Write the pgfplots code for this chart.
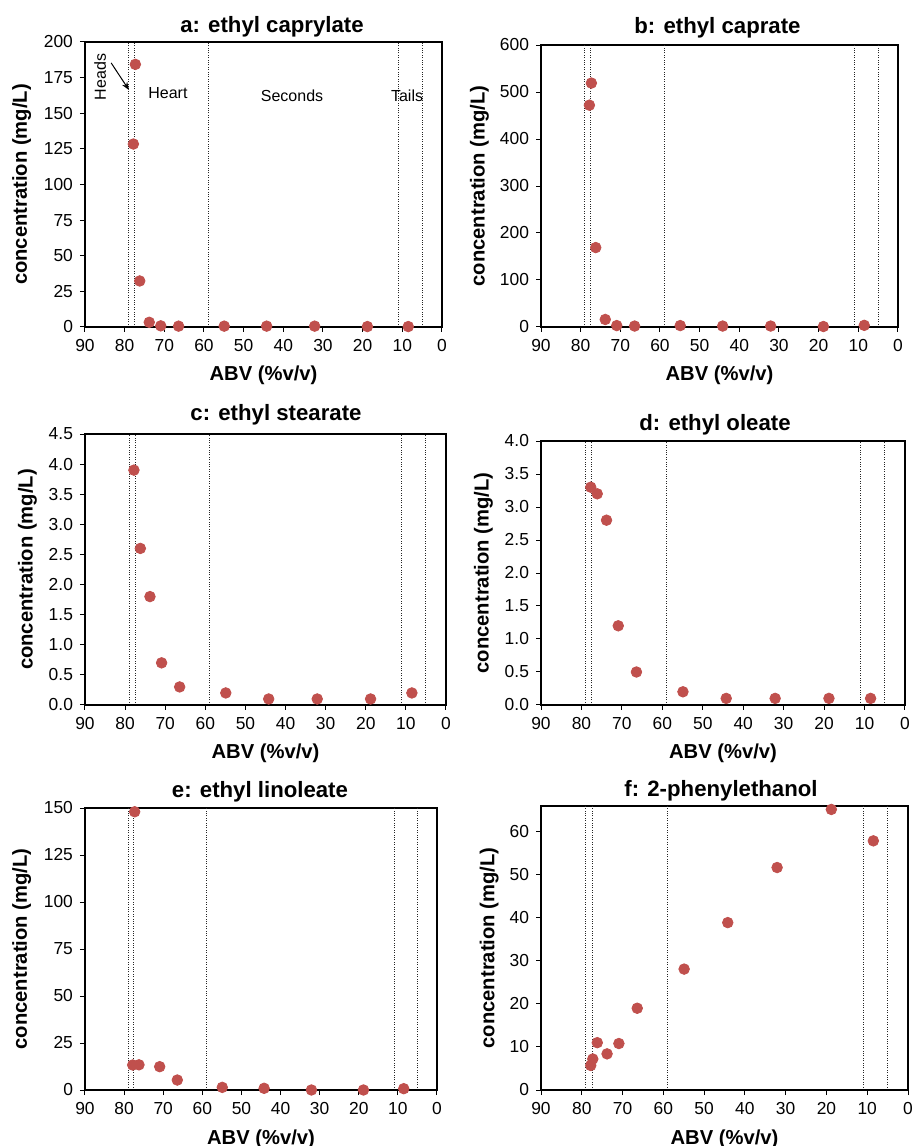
\documentclass[border=0pt]{standalone}
\usepackage{fontspec}
\setmainfont{Liberation Sans}
\usepackage{pgfplots}
\pgfplotsset{compat=1.18}
\usetikzlibrary{arrows.meta}
\definecolor{ptc}{HTML}{C0504D}
\pgfplotsset{
 panel/.style={
  scale only axis, clip=false,
  xmin=0, xmax=90, x dir=reverse, xtick={0,10,...,90},
  ymin=0,
  axis line style={line width=0.6pt},
  tick align=outside, major tick length=2.5pt,
  tick style={line width=0.5pt, black},
  xtick pos=bottom, ytick pos=left,
  /pgf/number format/assume math mode=true,
  tick label style={font=\fontsize{8.7}{10}\selectfont},
  title style={font=\bfseries\fontsize{11.1}{13}\selectfont, anchor=base, at={(axis description cs:0.5,1)}},
  xlabel style={font=\bfseries\fontsize{10.1}{12}\selectfont, anchor=base, at={(axis description cs:0.5,0)}, yshift=-27pt},
  ylabel style={font=\bfseries\fontsize{10.1}{12}\selectfont, anchor=center},
  xlabel={ABV (\%v/v)}, ylabel={concentration (mg/L)},
 },
 ylab/.style={ylabel style={at={([xshift=-#1]axis description cs:0,0.5)}}},
 vl/.style={line width=0.45pt, black!85, dash pattern=on 0.5pt off 0.7pt, forget plot},
 pts/.style={only marks, mark=*, mark size=2.65pt, color=ptc, mark options={draw=ptc, fill=ptc}},
}
\newcommand\vlines[1]{%
 \addplot[vl] coordinates {(79,0) (79,#1)};
 \addplot[vl] coordinates {(77.5,0) (77.5,#1)};
 \addplot[vl] coordinates {(59,0) (59,#1)};
 \addplot[vl] coordinates {(11,0) (11,#1)};
 \addplot[vl] coordinates {(5,0) (5,#1)};
 \draw[line width=1pt] (axis description cs:0,1) -- (axis description cs:0,0) -- (axis description cs:1,0);
}
\begin{document}
\begin{tikzpicture}
\useasboundingbox (0,0) rectangle (456pt,573pt);
% a
\begin{axis}[panel, at={(42.5pt,409.5pt)}, anchor=south west, width=178.5pt, height=142.5pt,
 ymax=200, ytick={0,25,...,200}, title={a: ethyl caprylate},
 title style={xshift=4.25pt, yshift=-1.1pt}, ylab=31.7pt]
\vlines{200}
\addplot[pts] coordinates {(77.3,184.3) (77.8,128.4) (76.2,32.3) (73.8,3.3) (70.9,0.8) (66.4,0.6) (54.9,0.6) (44.2,0.6) (32.1,0.6) (18.8,0.3) (8.5,0.3)};
\node[rotate=90, font=\fontsize{8}{9.6}\selectfont] at (axis cs:86.2,175.4) {Heads};
\draw[line width=0.5pt, -{Stealth[length=4pt,width=3pt]}] (axis cs:83.4,185.3) -- (axis cs:78.9,166.3);
\node[font=\fontsize{8}{9.6}\selectfont] at (axis cs:69.1,164.2) {Heart};
\node[font=\fontsize{8}{9.6}\selectfont] at (axis cs:37.8,162.1) {Seconds};
\node[font=\fontsize{8}{9.6}\selectfont] at (axis cs:8.8,162.1) {Tails};
\end{axis}
% b
\begin{axis}[panel, at={(270.5pt,409.5pt)}, anchor=south west, width=178.5pt, height=141pt,
 ymax=600, ytick={0,100,...,600}, title={b: ethyl caprate},
 title style={xshift=-1pt, yshift=-0.2pt}, ylab=30.8pt]
\vlines{600}
\addplot[pts] coordinates {(77.3,519) (77.8,472) (76.2,169) (73.8,16) (70.9,3) (66.4,2) (54.9,3) (44.2,2) (32.1,2) (18.8,1) (8.5,3.5)};
\end{axis}
% c
\begin{axis}[panel, at={(42.5pt,220.5pt)}, anchor=south west, width=180.5pt, height=135.5pt,
 ymax=4.5, ytick={0,0.5,...,4.5}, title={c: ethyl stearate},
 yticklabel style={/pgf/number format/.cd, fixed, fixed zerofill, precision=1},
 title style={xshift=5.25pt, yshift=1pt}, ylab=28.75pt]
\vlines{4.5}
\addplot[pts] coordinates {(77.8,3.9) (76.2,2.6) (73.8,1.8) (70.9,0.7) (66.4,0.3) (54.9,0.2) (44.2,0.1) (32.1,0.1) (18.8,0.1) (8.5,0.2)};
\end{axis}
% d
\begin{axis}[panel, at={(270.5pt,220.5pt)}, anchor=south west, width=182pt, height=132pt,
 ymax=4, ytick={0,0.5,...,4}, title={d: ethyl oleate},
 yticklabel style={/pgf/number format/.cd, fixed, fixed zerofill, precision=1},
 title style={xshift=-4pt, yshift=-0.5pt}, ylab=28.75pt]
\vlines{4}
\addplot[pts] coordinates {(77.7,3.3) (76.1,3.2) (73.8,2.8) (70.9,1.2) (66.4,0.5) (54.9,0.2) (44.2,0.1) (32.1,0.1) (18.8,0.1) (8.5,0.1)};
\end{axis}
% e
\begin{axis}[panel, at={(42.5pt,28pt)}, anchor=south west, width=176pt, height=141pt,
 ymax=150, ytick={0,25,...,150}, title={e: ethyl linoleate},
 title style={xshift=-0.5pt, yshift=-0.8pt}, ylab=31.7pt]
\vlines{150}
\addplot[pts] coordinates {(77.3,148) (77.8,13.3) (76.2,13.4) (70.9,12.4) (66.4,5.3) (54.9,1.4) (44.2,0.9) (32.1,0) (18.8,0) (8.5,0.7)};
\end{axis}
% f
\begin{axis}[panel, at={(270.5pt,28pt)}, anchor=south west, width=183.5pt, height=142pt,
 ymax=66, ytick={0,10,...,60}, title={f: 2-phenylethanol},
 title style={xshift=-1.75pt, yshift=-1pt}, ylab=25.9pt]
\vlines{66}
\addplot[pts] coordinates {(77.3,7.2) (77.8,5.7) (76.2,11.0) (73.8,8.4) (70.9,10.8) (66.4,19.0) (54.9,28.1) (44.2,38.9) (32.1,51.7) (18.8,65.2) (8.5,57.9)};
\end{axis}
\end{tikzpicture}
\end{document}
